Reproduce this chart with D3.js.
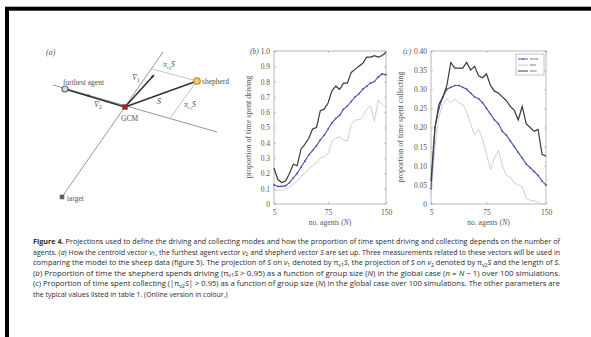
<!DOCTYPE html>
<html><head><meta charset="utf-8">
<script src="https://cdn.jsdelivr.net/npm/d3@7"></script>
<style>body{margin:0;background:#fff;} svg{display:block;}</style>
</head><body>
<svg id="chart" width="591" height="337"></svg>
<script>
// ---------------- DATA ----------------
const agentsN = [5,10,15,20,25,30,35,40,45,50,55,60,65,70,75,80,85,90,95,100,105,110,115,120,125,130,135,140,145,150];
const xTicks = [5,75,150];

// (b) proportion of time spent driving
const drivingMax  = [0.235,0.16,0.14,0.15,0.20,0.26,0.25,0.36,0.39,0.43,0.49,0.50,0.61,0.62,0.66,0.74,0.77,0.75,0.79,0.79,0.86,0.88,0.90,0.92,0.96,0.96,0.97,0.96,0.97,0.99];
const drivingMean = [0.125,0.115,0.115,0.12,0.14,0.17,0.20,0.24,0.28,0.32,0.35,0.38,0.42,0.45,0.49,0.53,0.56,0.58,0.62,0.64,0.67,0.70,0.72,0.75,0.77,0.79,0.80,0.83,0.85,0.845];
const drivingMin  = [0.09,0.09,0.09,0.10,0.11,0.13,0.15,0.18,0.20,0.23,0.25,0.27,0.30,0.31,0.33,0.41,0.43,0.44,0.42,0.41,0.52,0.55,0.55,0.57,0.62,0.64,0.54,0.68,0.65,0.63];
const drivingTicks = [0,0.1,0.2,0.3,0.4,0.5,0.6,0.7,0.8,0.9,1.0];

// (c) proportion of time spent collecting
const collectingMax  = [0.06,0.20,0.26,0.28,0.31,0.37,0.355,0.355,0.355,0.37,0.35,0.36,0.335,0.33,0.34,0.31,0.295,0.29,0.28,0.27,0.255,0.245,0.22,0.255,0.21,0.20,0.19,0.195,0.13,0.125];
const collectingMean = [0.04,0.20,0.25,0.28,0.30,0.305,0.31,0.31,0.305,0.30,0.29,0.28,0.275,0.265,0.25,0.235,0.22,0.21,0.19,0.18,0.165,0.15,0.135,0.12,0.105,0.095,0.085,0.075,0.06,0.05];
const collectingMin  = [0.02,0.15,0.23,0.26,0.275,0.265,0.275,0.265,0.26,0.24,0.21,0.18,0.195,0.17,0.13,0.09,0.12,0.14,0.10,0.075,0.07,0.055,0.05,0.045,0.015,0.01,0.008,0.005,0.0,0.0];
const collectingTicks = [0,0.05,0.10,0.15,0.20,0.25,0.30,0.35,0.40];

const legendLabels = ["mean","min","max"];

// ---------------- DRAW ----------------
const svg = d3.select("#chart");
const serif = "'Liberation Serif','DejaVu Serif',serif";
const sans = "'Liberation Sans Narrow','Open Sans','Liberation Sans',sans-serif";
const colMax = "#3a3a3a", colMean = "#4a56a6", colMin = "#cfcfcf";

// page frame (top and left edges visible)
svg.append("rect").attr("x",7).attr("y",8.7).attr("width",800).attr("height",600)
  .attr("fill","none").attr("stroke","#000").attr("stroke-width",4);

// ---------- panel (a): schematic ----------
const ga = svg.append("g").attr("font-family", serif).attr("fill","#555");
ga.append("text").attr("x",46).attr("y",55).attr("font-size",8).attr("font-style","italic").text("(a)");
const P = {gcm:[125,107], shep:[197,81], far:[65,89], target:[62,197], v1end:[163,52], v2end:[217,132], v2start:[53,85],
           p1:[152,69], p2:[170,118], a1:[154,75], a2:[86,95]};
const line = (a,b,col,w) => ga.append("line").attr("x1",a[0]).attr("y1",a[1]).attr("x2",b[0]).attr("y2",b[1]).attr("stroke",col).attr("stroke-width",w);
line(P.target,P.v1end,"#7a7a7a",0.8);
line(P.v2start,P.v2end,"#7a7a7a",0.8);
line(P.shep,P.p1,"#a9b4cc",0.8);
line(P.shep,P.p2,"#a9b4cc",0.8);
line(P.gcm,P.shep,"#333",1.6);
line(P.gcm,P.a1,"#333",1.6);
line(P.gcm,P.far,"#333",1.6);
function arrow(at, from){
  const dx=at[0]-from[0], dy=at[1]-from[1], L=Math.hypot(dx,dy), ux=dx/L, uy=dy/L;
  const s=3.2, w=1.4;
  const pts=[[at[0],at[1]],[at[0]-ux*s-uy*w,at[1]-uy*s+ux*w],[at[0]-ux*s+uy*w,at[1]-uy*s-ux*w]];
  ga.append("polygon").attr("points",pts.map(p=>p.join(",")).join(" ")).attr("fill","#333");
}
arrow(P.a1,P.gcm); arrow(P.a2,P.gcm);
ga.append("circle").attr("cx",P.far[0]).attr("cy",P.far[1]).attr("r",3).attr("fill","#ddd").attr("stroke","#666").attr("stroke-width",1.2);
ga.append("circle").attr("cx",P.shep[0]).attr("cy",P.shep[1]).attr("r",3.2).attr("fill","#f2cf7a").attr("stroke","#c98a1e").attr("stroke-width",1.3);
ga.append("rect").attr("x",P.gcm[0]-2.7).attr("y",P.gcm[1]-2.7).attr("width",5.4).attr("height",5.4).attr("fill","#8e2b2b");
ga.append("rect").attr("x",P.target[0]-2.3).attr("y",P.target[1]-2.3).attr("width",4.6).attr("height",4.6).attr("fill","#55607a");
const lab=(x,y,t,fs)=>ga.append("text").attr("x",x).attr("y",y).attr("font-size",fs||7.5).text(t);
lab(63,85,"furthest agent");
lab(202,84,"shepherd");
lab(121,121,"GCM");
lab(67,201,"target");
function vec(x,y,base,sub){
  const t=ga.append("text").attr("x",x).attr("y",y).attr("font-size",8).attr("font-style","italic");
  t.append("tspan").text(base+"\u0304");
  if(sub) t.append("tspan").attr("font-size",5.5).attr("dy",2).attr("font-style","normal").text(sub);
}
vec(132,80,"V","1");
vec(94,107,"V","2");
vec(157,104,"S");
function proj(x,y,sub){
  const t=ga.append("text").attr("x",x).attr("y",y).attr("font-size",7.5).attr("font-style","italic");
  t.append("tspan").text("\u03c0");
  t.append("tspan").attr("font-size",5).attr("dy",1.5).text("v");
  t.append("tspan").attr("font-size",4).attr("dy",1).attr("font-style","normal").text(sub);
  t.append("tspan").attr("dy",-2.5).text("S\u0304");
}
proj(163,67,"2");
proj(184,107,"1");

// ---------- panels (b) and (c) ----------
function panel(cfg){
  const g = svg.append("g").attr("font-family", serif);
  const x = d3.scaleLinear().domain([5,150]).range(cfg.xr);
  const y = d3.scaleLinear().domain(cfg.yd).range([204,51]);
  const [x0,x1]=cfg.xr;
  g.append("rect").attr("x",x0).attr("y",51).attr("width",x1-x0).attr("height",153).attr("fill","none").attr("stroke","#9a9a9a").attr("stroke-width",0.7);
  const ya = g.append("g").attr("transform",`translate(${x0},0)`)
    .call(d3.axisLeft(y).tickValues(cfg.ticks).tickSizeInner(-2).tickSizeOuter(0).tickPadding(4).tickFormat(cfg.fmt));
  const yr = g.append("g").attr("transform",`translate(${x1},0)`)
    .call(d3.axisRight(y).tickValues(cfg.ticks).tickSizeInner(-2).tickSizeOuter(0).tickFormat(""));
  const xa = g.append("g").attr("transform",`translate(0,204)`)
    .call(d3.axisBottom(x).tickValues(xTicks).tickSizeInner(-2).tickSizeOuter(0).tickPadding(6).tickFormat(d3.format("d")));
  const xt = g.append("g").attr("transform",`translate(0,51)`)
    .call(d3.axisTop(x).tickValues(xTicks).tickSizeInner(-2).tickSizeOuter(0).tickFormat(""));
  [ya,yr,xa,xt].forEach(a=>{a.select(".domain").remove(); a.selectAll(".tick line").attr("stroke","#9a9a9a").attr("stroke-width",0.6);
    a.selectAll("text").attr("font-family",serif).attr("font-size",7.5).attr("fill","#555");});
  const ln = d3.line().x((d,i)=>x(agentsN[i])).y(d=>y(d));
  g.append("path").datum(cfg.min).attr("d",ln).attr("fill","none").attr("stroke",colMin).attr("stroke-width",1);
  g.append("path").datum(cfg.mean).attr("d",ln).attr("fill","none").attr("stroke",colMean).attr("stroke-width",1.1);
  g.selectAll(".mk").data(cfg.mean).join("circle").attr("cx",(d,i)=>x(agentsN[i])).attr("cy",d=>y(d)).attr("r",0.9).attr("fill",colMean);
  g.append("path").datum(cfg.max).attr("d",ln).attr("fill","none").attr("stroke",colMax).attr("stroke-width",1.2);
  g.append("text").attr("x",cfg.tagX).attr("y",54).attr("font-size",7.5).attr("font-style","italic").attr("fill","#555").text(cfg.tag);
  g.append("text").attr("transform",`translate(${cfg.ylx},127) rotate(-90)`).attr("text-anchor","middle")
    .attr("font-size",8).attr("fill","#555").text(cfg.ylabel);
  const xl = g.append("text").attr("x",(x0+x1)/2).attr("y",225).attr("text-anchor","middle").attr("font-size",7.5).attr("fill","#555");
  xl.append("tspan").text("no. agents (");
  xl.append("tspan").attr("font-style","italic").text("N");
  xl.append("tspan").text(")");
  return {g,x,y};
}
const fmtB = d => d===0 ? "0" : d3.format(".1f")(d);
const fmtC = d => d===0 ? "0" : d3.format(".2f")(d);
panel({xr:[274,386], yd:[0,1], ticks:drivingTicks, fmt:fmtB, min:drivingMin, mean:drivingMean, max:drivingMax,
  tag:"(b)", tagX:250, ylx:251, ylabel:"proportion of time spent driving"});
const pc = panel({xr:[431,546], yd:[0,0.4], ticks:collectingTicks, fmt:fmtC, min:collectingMin, mean:collectingMean, max:collectingMax,
  tag:"(c)", tagX:403, ylx:403, ylabel:"proportion of time spent collecting"});

// legend in (c)
const lg = pc.g.append("g");
lg.append("rect").attr("x",516).attr("y",54).attr("width",28).attr("height",21).attr("fill","#fff").attr("stroke","#9a9a9a").attr("stroke-width",0.6);
const legCols=[colMean,colMin,colMax];
legendLabels.forEach((t,i)=>{
  const yy=59+i*6;
  lg.append("line").attr("x1",518).attr("x2",528).attr("y1",yy).attr("y2",yy).attr("stroke",legCols[i]).attr("stroke-width",1);
  if(i===0) lg.append("circle").attr("cx",523).attr("cy",yy).attr("r",0.8).attr("fill",colMean);
  lg.append("text").attr("x",530).attr("y",yy+1.3).attr("font-size",3.8).attr("fill","#555").text(t);
});

// ---------- caption ----------
const capLines = [
  [["Figure 4.","b"],[" Projections used to define the driving and collecting modes and how the proportion of time spent driving and collecting depends on the number of"]],
  [["agents. ("],["a","i"],[") How the centroid vector "],["v","i"],["1","s"],[", the furthest agent vector "],["v","i"],["2","s"],[" and shepherd vector "],["S","i"],[" are set up. Three measurements related to these vectors will be used in"]],
  [["comparing the model to the sheep data (figure 5). The projection of "],["S","i"],[" on "],["v","i"],["1","s"],[" denoted by \u03c0"],["v1","s"],["S","i"],[", the projection of "],["S","i"],[" on "],["v","i"],["2","s"],[" denoted by \u03c0"],["v2","s"],["S","i"],[" and the length of "],["S","i"],["."]],
  [["("],["b","i"],[") Proportion of time the shepherd spends driving (\u03c0"],["v1","s"],["S","i"],[" > 0.95) as a function of group size ("],["N","i"],[") in the global case ("],["n","i"],[" = "],["N","i"],[" \u2212 1) over 100 simulations."]],
  [["("],["c","i"],[") Proportion of time spent collecting (|\u03c0"],["v2","s"],["S","i"],["| > 0.95) as a function of group size ("],["N","i"],[") in the global case over 100 simulations. The other parameters are"]],
  [["the typical values listed in table 1. (Online version in colour.)"]]
];
const capG = svg.append("g").attr("font-family",sans).attr("fill","#2b2b2b");
const capX = 33, capW = 527;
capLines.forEach((segs,li)=>{
  let fs = 8;
  const t = capG.append("text").attr("x",capX).attr("y",244+li*10.5).attr("font-size",fs);
  let shifted=false;
  segs.forEach(([s,f])=>{
    const ts=t.append("tspan").text(s);
    if(f==="b") ts.attr("font-weight","bold");
    if(f==="i") ts.attr("font-style","italic");
    if(f==="s"){ ts.attr("font-size","0.7em").attr("dy",shifted?0:1.8); shifted=true; }
    else if(shifted){ ts.attr("dy",-1.8); shifted=false; }
  });
  const target = li===5 ? 195 : capW;
  let w = t.node().getComputedTextLength();
  if (w > target) { fs = fs*target/w; t.attr("font-size",fs); w = t.node().getComputedTextLength(); }
  if (li !== 5) {
    const spaces = segs.map(s=>s[0]).join("").split(" ").length-1;
    if (spaces>0 && w < target) t.attr("word-spacing", (target-w)/spaces);
  }
});
</script>
</body></html>
